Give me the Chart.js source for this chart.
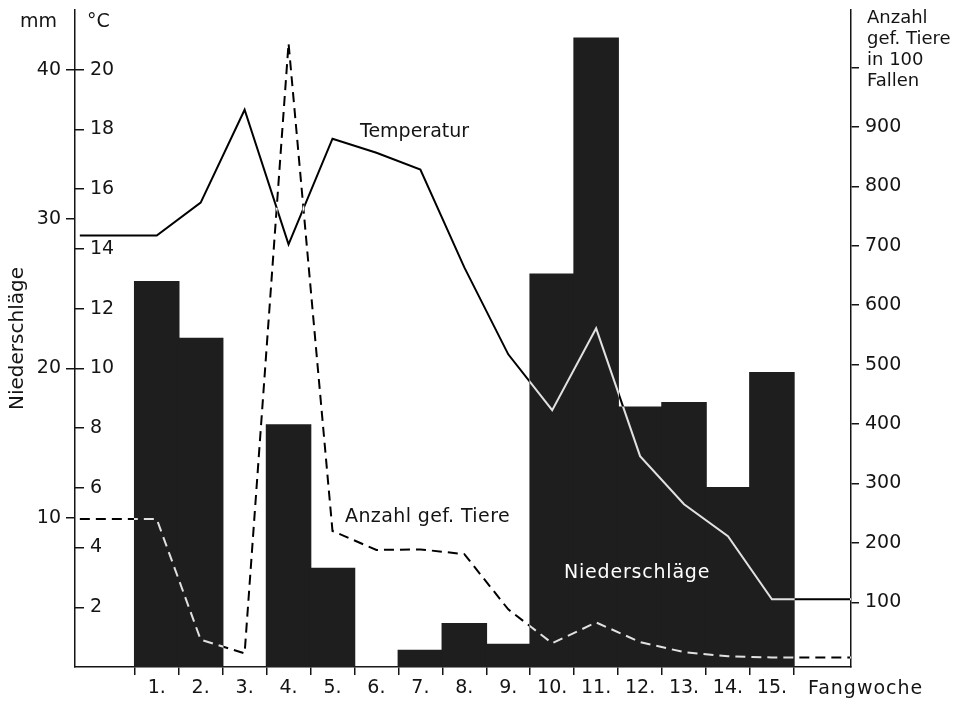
<!DOCTYPE html>
<html>
<head>
<meta charset="utf-8">
<script src="https://cdn.jsdelivr.net/npm/chart.js@4.4.1/dist/chart.umd.min.js"></script>
<style>
  html, body { margin: 0; padding: 0; background: #fff; }
  canvas { display: block; }
</style>
</head>
<body>
<canvas id="chart" width="957" height="702"></canvas>
<script>
// Fangwoche 1.-15.
const weeks = [1, 2, 3, 4, 5, 6, 7, 8, 9, 10, 11, 12, 13, 14, 15];
// Niederschläge (mm)
const niederschlag = [25.8, 22.0, 0, 16.2, 6.6, 0, 1.1, 2.9, 1.5, 26.3, 42.1, 17.4, 17.7, 12.0, 19.7];
// Temperatur (°C)
const temperatur = [14.45, 15.55, 18.66, 14.15, 17.69, 17.22, 16.66, 13.38, 10.47, 8.6, 11.34, 7.06, 5.45, 4.38, 2.27];
// Anzahl gefangener Tiere in 100 Fallen
const anzahlTiere = [240, 37, 14, 1041, 220, 188, 189, 181, 88, 31, 66, 33, 16, 9, 7];

// tick labels
const mmTicks = [10, 20, 30, 40];
const tempTicks = [2, 4, 6, 8, 10, 12, 14, 16, 18, 20];
const tiereTicks = [100, 200, 300, 400, 500, 600, 700, 800, 900, 1000];

// the curves run flat out to the axes (in week units)
const lineStart = -0.75;
const lineEnd = 16.8;

const ink = '#141414';
const fontFamily = "'DejaVu Sans', sans-serif";
const font = { family: fontFamily, size: 19 };

const fixedTicks = list => scale => {
  scale.ticks = list.map(v => ({ value: v }));
};

// keep the plot area where the original has it
const fitWidth = w => s => {
  s.width = w;
  s.paddingTop = 0;
  s.paddingBottom = 0;
};

const withEnds = values => [
  { x: lineStart, y: values[0] },
  ...weeks.map((w, i) => ({ x: w, y: values[i] })),
  { x: lineEnd, y: values[values.length - 1] }
];

// white page, lines drawn in "difference" so they turn white over the bars
const paperPlugin = {
  id: 'paper',
  beforeDraw(chart) {
    const c = chart.ctx;
    c.save();
    c.fillStyle = '#fff';
    c.fillRect(0, 0, chart.width, chart.height);
    c.restore();
  },
  beforeDatasetDraw(chart, args) {
    if (args.meta.type === 'line') {
      chart.ctx.save();
      chart.ctx.globalCompositeOperation = 'difference';
    }
  },
  afterDatasetDraw(chart, args) {
    if (args.meta.type === 'line') chart.ctx.restore();
  },
  afterDraw(chart) {
    const c = chart.ctx;
    c.save();
    c.font = `19px ${fontFamily}`;
    c.textBaseline = 'alphabetic';
    c.textAlign = 'left';
    c.fillStyle = ink;
    c.fillText('mm', 20, 27);
    c.fillText('°C', 87, 27);
    c.fillText('Temperatur', 360, 137);
    c.letterSpacing = '0.4px';
    c.fillText('Anzahl gef. Tiere', 345, 522);
    c.letterSpacing = '1px';
    c.fillText('Fangwoche', 808, 694);
    c.letterSpacing = '0px';
    c.font = `18px ${fontFamily}`;
    ['Anzahl', 'gef. Tiere', 'in 100', 'Fallen'].forEach((t, i) => {
      c.fillText(t, 867, 23 + i * 21);
    });
    c.font = `19px ${fontFamily}`;
    c.letterSpacing = '0.8px';
    c.fillStyle = '#fff';
    c.fillText('Niederschläge', 564, 578);
    c.restore();
  }
};

const axisGrid = len => ({
  drawOnChartArea: false,
  color: ink,
  lineWidth: 1.5,
  tickLength: len,
  tickWidth: 1.5
});

new Chart(document.getElementById('chart'), {
  type: 'bar',
  data: {
    datasets: [
      {
        type: 'line',
        label: 'Temperatur',
        data: withEnds(temperatur),
        yAxisID: 'temp',
        borderColor: '#fff',
        borderWidth: 2,
        pointRadius: 0,
        tension: 0,
        order: 1
      },
      {
        type: 'line',
        label: 'Anzahl gef. Tiere',
        data: withEnds(anzahlTiere),
        yAxisID: 'tiere',
        borderColor: '#fff',
        borderWidth: 2,
        borderDash: [10, 6],
        pointRadius: 0,
        tension: 0,
        order: 2
      },
      {
        type: 'bar',
        label: 'Niederschläge',
        data: weeks.map((w, i) => ({ x: w, y: niederschlag[i] })),
        yAxisID: 'mm',
        backgroundColor: '#1e1e1e',
        borderWidth: 0,
        inflateAmount: 0.8,
        barPercentage: 1,
        categoryPercentage: 1,
        order: 3
      }
    ]
  },
  options: {
    responsive: false,
    animation: false,
    devicePixelRatio: 1,
    layout: { padding: { top: 10, left: 0, right: 0, bottom: 0 } },
    plugins: {
      legend: { display: false },
      tooltip: { enabled: false }
    },
    scales: {
      x: {
        type: 'linear',
        position: 'bottom',
        min: -0.86,
        max: 16.8,
        offset: false,
        afterBuildTicks: fixedTicks(weeks),
        afterFit: s => { s.height = 35; s.paddingLeft = 0; s.paddingRight = 0; },
        grid: axisGrid(8),
        border: { display: true, color: ink, width: 1.5 },
        ticks: { color: ink, font, padding: 2, maxRotation: 0, autoSkip: false, callback: v => v + '.' }
      },
      mm: {
        type: 'linear',
        position: 'left',
        weight: 1,
        min: 0,
        max: 44,
        afterBuildTicks: fixedTicks(mmTicks),
        afterFit: fitWidth(75),
        grid: axisGrid(9),
        border: { display: true, color: ink, width: 1.5 },
        ticks: { color: ink, font, padding: 5 },
        title: {
          display: true,
          text: 'Niederschläge',
          color: ink,
          font: { family: fontFamily, size: 20 },
          padding: { top: 6, bottom: 0 }
        }
      },
      temp: {
        type: 'linear',
        position: 'left',
        weight: 0,
        min: 0,
        max: 22,
        afterBuildTicks: fixedTicks(tempTicks),
        afterFit: fitWidth(0),
        grid: axisGrid(-9),
        border: { display: false },
        ticks: { color: ink, font, mirror: true, padding: 15 }
      },
      tiere: {
        type: 'linear',
        position: 'right',
        min: -9,
        max: 1097,
        afterBuildTicks: fixedTicks(tiereTicks),
        afterFit: fitWidth(106),
        grid: axisGrid(8),
        border: { display: true, color: ink, width: 1.5 },
        ticks: { color: ink, font, padding: 6, callback: v => (v === 1000 ? '' : v) }
      }
    }
  },
  plugins: [paperPlugin]
});
</script>
</body>
</html>
